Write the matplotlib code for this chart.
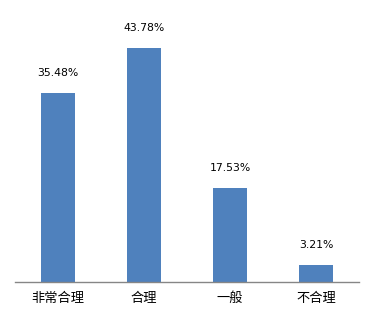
import matplotlib
matplotlib.use("Agg")
import matplotlib.pyplot as plt

categories = ["非常合理", "合理", "一般", "不合理"]
values = [35.48, 43.78, 17.53, 3.21]
labels = ["35.48%", "43.78%", "17.53%", "3.21%"]

fig = plt.figure(figsize=(3.74, 3.18), dpi=100)
ax = fig.add_axes([15 / 374, 36 / 318, 344 / 374, 267 / 318])

x = range(len(categories))
bars = ax.bar(x, values, width=0.395, color="#4F81BD")

for b, t in zip(bars, labels):
    ax.annotate(t, (b.get_x() + b.get_width() / 2, b.get_height()),
                xytext=(0, 20), textcoords="offset pixels",
                ha="center", va="center", fontsize=7.8,
                family=["DejaVu Sans"], color="#000000")

ax.set_xlim(-0.5, len(categories) - 0.5)
ax.set_ylim(0, 50)
ax.set_xticks(list(x))
ax.set_xticklabels(categories, family=["Noto Sans CJK SC", "DejaVu Sans"], fontsize=9.5)
ax.tick_params(axis="x", length=0, pad=7)
ax.set_yticks([])
for s in ["top", "right", "left"]:
    ax.spines[s].set_visible(False)
ax.spines["bottom"].set_color("#868686")
ax.spines["bottom"].set_linewidth(1)

fig.savefig("out.png", dpi=100)
